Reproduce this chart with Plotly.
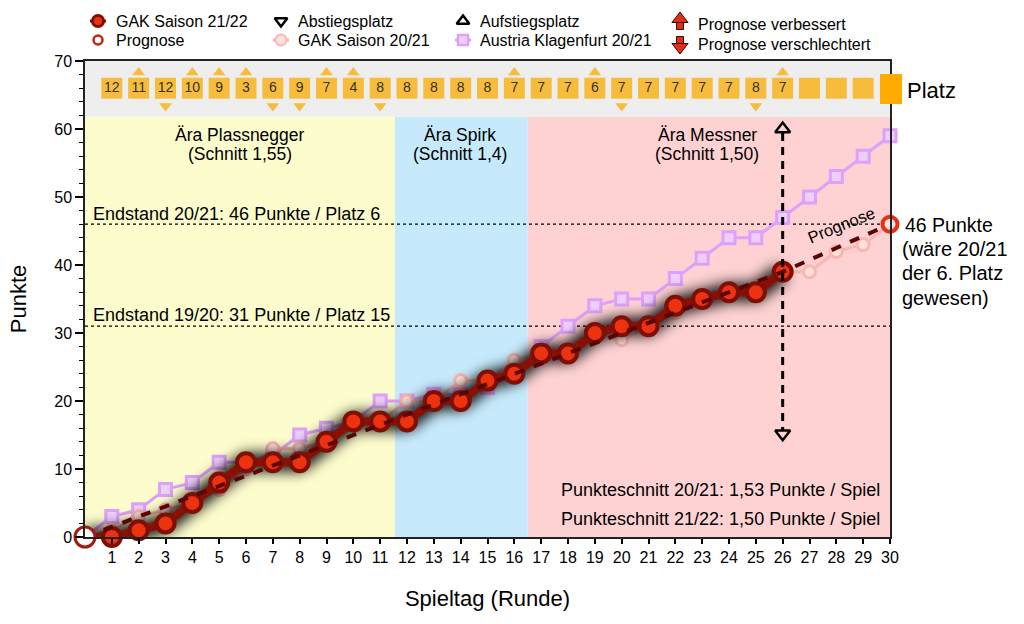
import plotly.graph_objects as go

FONT = "Liberation Sans"

rounds = list(range(1, 31))
all_rounds = list(range(0, 31))
gak_rounds = list(range(0, 27))
gak_2122 = [0, 0, 1, 2, 5, 8, 11, 11, 11, 14, 17, 17, 17, 20, 20, 23, 24, 27, 27, 30, 31, 31, 34, 35, 36, 36, 39]
gak_2021 = [0, 1, 3, 4, 5, 7, 10, 13, 13, 14, 17, 17, 20, 20, 23, 23, 26, 27, 27, 30, 29, 31, 33, 35, 36, 36, 39, 39, 42, 43, 46]
klagenfurt = [0, 3, 4, 7, 8, 11, 11, 12, 15, 16, 17, 20, 20, 21, 21, 22, 24, 28, 31, 34, 35, 35, 38, 41, 44, 44, 47, 50, 53, 56, 59]
prognose_x = [0, 26, 30]
prognose_y = [0, 39, 46]

platz = [12, 11, 12, 10, 9, 3, 6, 9, 7, 4, 8, 8, 8, 8, 8, 7, 7, 7, 6, 7, 7, 7, 7, 7, 8, 7, None, None, None]
platz_up = [2, 4, 5, 6, 9, 10, 16, 19, 26]
platz_down = [3, 7, 8, 11, 20, 25]

GAK_LINE = "rgb(140,15,5)"
GAK_FILL = "rgb(236,50,15)"
GAK_EDGE = "rgb(125,15,5)"
PINK = "rgb(250,182,176)"
PINK_FILL = "rgb(253,226,220)"
LILA = "rgb(222,160,250)"
LILA_FILL = "rgb(236,208,252)"
GOLD = "rgb(248,188,60)"

fig = go.Figure()

# eras and Platz band
for x0, x1, y0, y1, col in [(0, 11.55, 0, 61.8, "rgb(252,252,205)"),
                            (11.55, 16.5, 0, 61.8, "rgb(198,234,252)"),
                            (16.5, 30, 0, 61.8, "rgb(254,210,210)"),
                            (0, 30, 61.8, 70, "rgb(238,238,238)")]:
    fig.add_shape(type="rect", x0=x0, x1=x1, y0=y0, y1=y1, fillcolor=col, line_width=0, layer="below")

# final tables
for level in [46, 31]:
    fig.add_shape(type="line", x0=0, x1=30, y0=level, y1=level, layer="below",
                  line=dict(color="black", width=1.3, dash="dot"))

# 20/21 comparison lines
fig.add_trace(go.Scatter(x=all_rounds, y=klagenfurt, mode="lines+markers", cliponaxis=False,
                         line=dict(color=LILA, width=3),
                         marker=dict(symbol="square", size=12, color=LILA_FILL, line=dict(color=LILA, width=3))))
fig.add_trace(go.Scatter(x=all_rounds, y=gak_2021, mode="lines+markers", cliponaxis=False,
                         line=dict(color=PINK, width=3),
                         marker=dict(size=12, color=PINK_FILL, line=dict(color=PINK, width=3))))

# shadow under the season line, blurred by the css at the bottom
fig.add_trace(go.Scatter(x=gak_rounds, y=gak_2122, mode="lines",
                         line=dict(color="rgba(0,0,0,0.95)", width=18)))

fig.add_trace(go.Scatter(x=gak_rounds, y=gak_2122, mode="lines", line=dict(color=GAK_LINE, width=8)))
fig.add_trace(go.Scatter(x=gak_rounds[1:], y=gak_2122[1:], mode="markers", cliponaxis=False,
                         marker=dict(size=18, color=GAK_FILL, line=dict(color=GAK_EDGE, width=4))))
fig.add_trace(go.Scatter(x=prognose_x, y=prognose_y, mode="lines",
                         line=dict(color="rgb(90,5,5)", width=4, dash="10px,10px")))

# start and forecast end
fig.add_trace(go.Scatter(x=[0], y=[0], mode="markers", cliponaxis=False,
                         marker=dict(size=20, color="white", line=dict(color="rgb(165,25,15)", width=3))))
fig.add_trace(go.Scatter(x=[30], y=[46], mode="markers", cliponaxis=False,
                         marker=dict(size=15, color="rgb(255,225,220)", line=dict(color="rgb(228,50,25)", width=4))))

# forecast range arrow
fig.add_trace(go.Scatter(x=[26, 26], y=[15, 60], mode="lines",
                         line=dict(color="black", width=3, dash="8px,6px")))
fig.add_trace(go.Scatter(x=[26, 26], y=[15.2, 60], mode="markers",
                         marker=dict(symbol=["triangle-down", "triangle-up"], size=13, color="rgb(254,210,210)",
                                     line=dict(color="black", width=2.5))))

# Platz row
fig.add_trace(go.Scatter(x=rounds[:-1], y=[66] * 29, mode="markers+text", cliponaxis=False,
                         text=[("" if p is None else str(p)) for p in platz],
                         textposition="middle center", textfont=dict(family=FONT, size=14, color="#333"),
                         marker=dict(symbol="square", size=21, color=GOLD)))
fig.add_trace(go.Scatter(x=platz_up, y=[68.3] * len(platz_up), mode="markers",
                         marker=dict(symbol="triangle-up", size=11, color=GOLD)))
fig.add_trace(go.Scatter(x=platz_down, y=[63.4] * len(platz_down), mode="markers",
                         marker=dict(symbol="triangle-down", size=11, color=GOLD)))
fig.add_shape(type="rect", xref="x2", yref="y2", x0=880, x1=902, y0=74, y1=104,
              fillcolor="rgb(255,171,0)", line_width=0)

# legend keys, drawn on a hidden pixel axis pair that covers the whole page
keys = [
    (98, 21, dict(size=11, color=GAK_FILL, line=dict(color=GAK_EDGE, width=3)), GAK_LINE),
    (98, 40, dict(size=9, color="white", line=dict(color="rgb(200,35,20)", width=2.5)), None),
    (281, 21, dict(symbol="triangle-down", size=11, color="white", line=dict(color="black", width=2.5)), None),
    (281, 40, dict(size=11, color=PINK_FILL, line=dict(color=PINK, width=2)), PINK),
    (463, 21, dict(symbol="triangle-up", size=11, color="white", line=dict(color="black", width=2.5)), None),
    (463, 40, dict(symbol="square", size=10, color=LILA_FILL, line=dict(color=LILA, width=2.5)), LILA),
]
for kx, ky, marker, line_col in keys:
    if line_col:
        fig.add_trace(go.Scatter(x=[kx - 8, kx + 8], y=[ky, ky], mode="lines", xaxis="x2", yaxis="y2",
                                 line=dict(color=line_col, width=3)))
    fig.add_trace(go.Scatter(x=[kx], y=[ky], mode="markers", xaxis="x2", yaxis="y2", marker=marker))

# arrow keys: head plus stem
for ky, head, stem_y in [(19, "triangle-up", 26), (47, "triangle-down", 40)]:
    fig.add_trace(go.Scatter(x=[680], y=[stem_y], mode="markers", xaxis="x2", yaxis="y2",
                             marker=dict(symbol="square", size=7, color="rgb(225,45,25)",
                                         line=dict(color="rgb(60,10,5)", width=1))))
    fig.add_trace(go.Scatter(x=[680], y=[ky], mode="markers", xaxis="x2", yaxis="y2",
                             marker=dict(symbol=head, size=14, color="rgb(225,45,25)",
                                         line=dict(color="rgb(60,10,5)", width=1))))

# all free text, placed in page pixels: x, y, text, size, anchor
texts = [
    (116, 21.5, "GAK Saison 21/22", 16, "left"), (116, 40, "Prognose", 16, "left"),
    (298, 21.5, "Abstiegsplatz", 16, "left"), (298, 40, "GAK Saison 20/21", 16, "left"),
    (480, 21.5, "Aufstiegsplatz", 16, "left"), (480, 40, "Austria Klagenfurt 20/21", 16, "left"),
    (698, 24, "Prognose verbessert", 16, "left"), (698, 44, "Prognose verschlechtert", 16, "left"),
    (240, 134.5, "Ära Plassnegger", 17.5, "center"), (240, 153.5, "(Schnitt 1,55)", 17.5, "center"),
    (460, 134.5, "Ära Spirk", 17.5, "center"), (460, 153.5, "(Schnitt 1,4)", 17.5, "center"),
    (707, 134.5, "Ära Messner", 17.5, "center"), (707, 153.5, "(Schnitt 1,50)", 17.5, "center"),
    (93, 214, "Endstand 20/21: 46 Punkte / Platz 6", 18, "left"),
    (93, 315, "Endstand 19/20: 31 Punkte / Platz 15", 18, "left"),
    (880, 490, "Punkteschnitt 20/21: 1,53 Punkte / Spiel", 18, "right"),
    (880, 519, "Punkteschnitt 21/22: 1,50 Punkte / Spiel", 18, "right"),
    (907, 90, "Platz", 22, "left"),
    (905, 225, "46 Punkte", 19.5, "left"),
    (902, 249, "(wäre 20/21", 20, "left"),
    (902, 273, "der 6. Platz", 20, "left"),
    (902, 298, "gewesen)", 20, "left"),
]
for tx, ty, txt, size, anchor in texts:
    fig.add_annotation(x=tx, y=ty, xref="x2", yref="y2", text=txt, showarrow=False, xanchor=anchor,
                       borderpad=0, borderwidth=0, font=dict(family=FONT, size=size, color="black"))
fig.add_annotation(x=841, y=225, xref="x2", yref="y2", text="Prognose", textangle=-22, showarrow=False,
                   font=dict(family=FONT, size=16.5, color="black"))

fig.update_layout(
    width=1024, height=624,
    margin=dict(l=0, r=0, t=0, b=0),
    paper_bgcolor="white", plot_bgcolor="rgba(0,0,0,0)",
    showlegend=False,
    font=dict(family=FONT, color="black"),
    xaxis=dict(domain=[85 / 1024, 890 / 1024], range=[0, 30], tickvals=rounds, ticks="outside", ticklen=5,
               tickwidth=1.5, tickcolor="black", showgrid=False, zeroline=False, showline=True, linecolor="#222",
               linewidth=1.5, mirror=True, tickfont=dict(size=16), automargin=False,
               title=dict(text="Spieltag (Runde)", font=dict(size=22), standoff=26)),
    yaxis=dict(domain=[87 / 624, 563 / 624], range=[0, 70], tickvals=list(range(0, 71, 10)), ticks="outside",
               ticklen=8, tickwidth=1.5, tickcolor="black", showgrid=False, zeroline=False, showline=True,
               linecolor="#222", linewidth=1.5, mirror=True, tickfont=dict(size=16), automargin=False,
               minor=dict(dtick=2, ticks="outside", ticklen=4, tickwidth=1.2, tickcolor="black", showgrid=False),
               title=dict(text="Punkte", font=dict(size=22), standoff=22)),
    xaxis2=dict(domain=[0, 1], range=[0, 1024], visible=False, anchor="y2"),
    yaxis2=dict(domain=[0, 1], range=[624, 0], visible=False, anchor="x2"),
)

# page margin off, blur on the shadow trace (third trace of the main subplot)
post = """
var st = document.createElement('style');
st.textContent = 'body{margin:0}' +
    '.xy .scatterlayer .trace:nth-child(3) path.js-line{filter:blur(7px)}';
document.head.appendChild(st);
"""
fig.write_html("out.html", post_script=post, config={"displayModeBar": False})
